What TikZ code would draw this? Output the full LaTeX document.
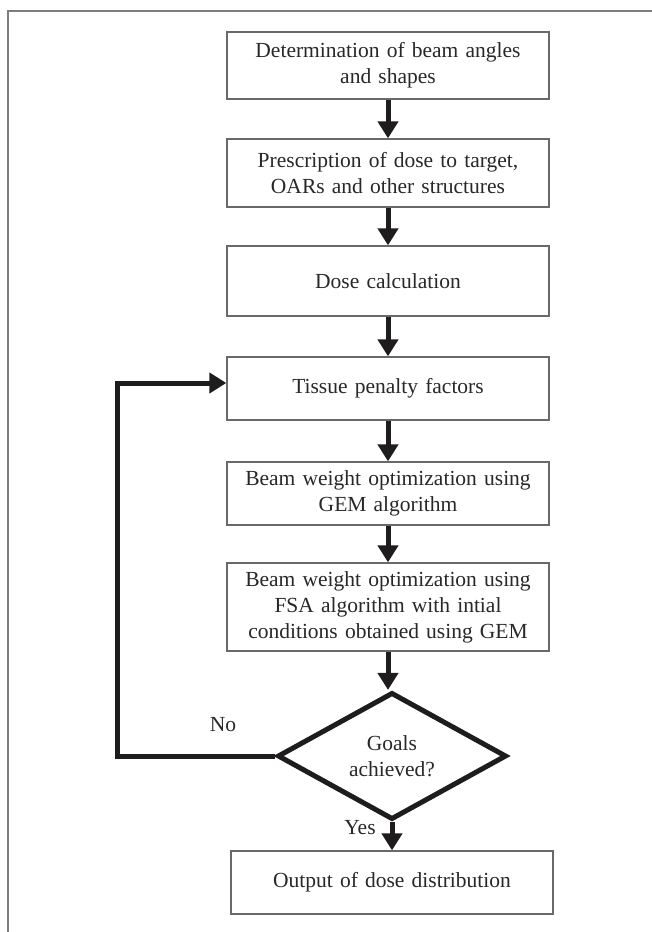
\documentclass[tikz,border=0pt]{standalone}
\usepackage{fontspec}
\setmainfont{Liberation Serif}
\usetikzlibrary{arrows.meta,shapes.geometric}
\definecolor{boxgray}{RGB}{105,105,105}
\definecolor{txt}{RGB}{40,40,40}
\definecolor{framegray}{RGB}{125,125,125}
\definecolor{ink}{RGB}{30,28,28}
\begin{document}
\begin{tikzpicture}[x=1pt,y=-1pt,
  box/.style={draw=boxgray,line width=1.3pt,minimum width=322pt,text width=318pt,align=center,inner sep=0pt,font=\fontsize{21.5}{26}\selectfont,text=txt},
  decision/.style={diamond,draw=ink,line width=5pt,minimum width=229pt,minimum height=126pt,inner sep=0pt,align=center,font=\fontsize{21.5}{26}\selectfont,text=txt},
  arr/.style={line width=5pt,draw=ink,-{Triangle[length=17pt,width=20pt]}},
  lbl/.style={font=\fontsize{21.5}{26}\selectfont,text=txt,inner sep=0pt}]
\useasboundingbox (0,0) rectangle (652,932);
\fill[white] (0,0) rectangle (652,932);
\draw[framegray,line width=1.5pt] (8,932) -- (8,11) -- (652,11);

\node[box,minimum height=67pt] (b1) at (388,65.5) {Determination of beam angles\\and shapes};
\node[box,minimum height=68pt] (b2) at (388,173) {Prescription of dose to target,\\OARs and other structures};
\node[box,minimum height=70pt] (b3) at (388,281) {Dose calculation};
\node[box,minimum height=63pt] (b4) at (388,388.5) {Tissue penalty factors};
\node[box,minimum height=63pt] (b5) at (388,493.5) {Beam weight optimization using\\GEM algorithm};
\node[box,minimum height=88pt] (b6) at (388,607) {Beam weight optimization using\\FSA algorithm with intial\\conditions obtained using GEM};
\node[decision] (dia) at (392,756) {Goals\\achieved?};
\node[box,minimum height=63pt] (out) at (392,882.5) {Output of dose distribution};

\draw[arr] (b1) -- (b2);
\draw[arr] (b2) -- (b3);
\draw[arr] (b3) -- (b4);
\draw[arr] (b4) -- (b5);
\draw[arr] (b5) -- (b6);
\draw[arr] (b6.south) -- (b6.south |- dia.north);
\draw[arr] (dia.south) -- (out.north);
\draw[arr,rounded corners=0pt] (dia.west) -- (117,756) -- (117,383) -- (b4.west |- 0,383);

\node[lbl] (no) at (223,725) {No};
\node[lbl] (yes) at (360,828) {Yes};
\end{tikzpicture}
\end{document}
